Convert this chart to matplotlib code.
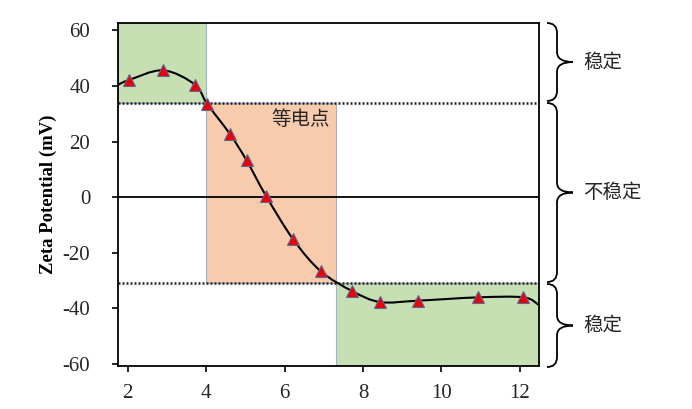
import matplotlib
matplotlib.use("Agg")
import matplotlib.pyplot as plt
from matplotlib.patches import Rectangle, PathPatch
from matplotlib.path import Path
import numpy as np

plt.rcParams.update({"font.family": ["Liberation Serif", "Noto Sans CJK SC"],
                     "axes.unicode_minus": False})

# ── 数据 ──────────────────────────────────────────
ph = [2.03, 2.9, 3.71, 4.02, 4.6, 5.03, 5.52, 6.22, 6.92, 7.73, 8.44, 9.4, 10.94, 12.09]
zeta = [42.1, 45.6, 40.5, 33.6, 22.8, 13.2, 0.6, -15.2, -26.6, -33.8, -37.7, -37.2, -36.0, -36.0]

# 曲线在坐标轴两端的读数
curve_start = (1.75, 40.4)
curve_end = (12.48, -38.7)

upper_limit = 34.0      # 上稳定边界
lower_limit = -31.0     # 下稳定边界
iep_left = 4.0          # 等电点区左界
iep_right = 7.32        # 等电点区右界

xticks = [2, 4, 6, 8, 10, 12]
yticks = [-60, -40, -20, 0, 20, 40, 60]
zone_labels = ["稳定", "不稳定", "稳定"]

C_GREEN = "#C6E0B4"
C_ORANGE = "#F8CBAD"
C_EDGE = "#9DB4CC"
C_TEXT = "#262626"


fig = plt.figure(figsize=(6.92, 4.09), dpi=100)
ax = fig.add_axes([0.1705, 0.105, 0.608, 0.838])
xmin, xmax = 1.75, 12.48
ymin, ymax = -60.7, 62.5
ax.set_xlim(xmin, xmax)
ax.set_ylim(ymin, ymax)

# 区域底色
ax.add_patch(Rectangle((xmin, upper_limit), iep_left - xmin, ymax - upper_limit,
                       facecolor=C_GREEN, edgecolor=C_EDGE, lw=0.8, zorder=1))
ax.add_patch(Rectangle((iep_left, lower_limit), iep_right - iep_left, upper_limit - lower_limit,
                       facecolor=C_ORANGE, edgecolor=C_EDGE, lw=0.8, zorder=1))
ax.add_patch(Rectangle((iep_right, ymin), xmax - iep_right, lower_limit - ymin,
                       facecolor=C_GREEN, edgecolor=C_EDGE, lw=0.8, zorder=1))

ax.axhline(0, color="black", lw=1.3, zorder=2)
ax.axhline(upper_limit, color="#222222", lw=1.8, ls=(0, (0.8, 0.8)), zorder=2)
ax.axhline(lower_limit, color="#222222", lw=1.8, ls=(0, (0.8, 0.8)), zorder=2)

# 平滑连线（Excel 式平滑：屏幕坐标下的 Catmull-Rom 贝塞尔）
cx = [curve_start[0]] + ph + [curve_end[0]]
cy = [curve_start[1]] + zeta + [curve_end[1]]
P = ax.transData.transform(np.column_stack([cx, cy]))
P = np.vstack([P[:1], P, P[-1:]])
verts = [P[1]]
codes = [Path.MOVETO]
for i in range(1, len(P) - 2):
    c1 = P[i] + (P[i + 1] - P[i - 1]) / 6
    c2 = P[i + 1] - (P[i + 2] - P[i]) / 6
    verts += [c1, c2, P[i + 1]]
    codes += [Path.CURVE4] * 3
verts = ax.transData.inverted().transform(np.array(verts))
ax.add_patch(PathPatch(Path(verts, codes), fill=False, edgecolor="black",
                       lw=1.5, zorder=3))

ax.plot(ph, zeta, ls="none", marker="^", ms=9, mfc="#E8000B",
        mec="#5A6A90", mew=0.8, zorder=4)

ax.text(6.4, 28, "等电点", ha="center", va="center", fontsize=14,
        family=["Noto Sans CJK SC"], color=C_TEXT, zorder=5)

ax.set_xticks(xticks)
ax.set_yticks(yticks)
ax.tick_params(direction="out", length=4, width=1.2, labelsize=15,
               colors="black", labelcolor=C_TEXT, top=False, right=False)
ax.tick_params(axis="y", pad=16)
ax.tick_params(axis="x", pad=9)
for s in ax.spines.values():
    s.set_linewidth(1.3)
ax.set_ylabel("Zeta Potential (mV)", fontsize=13.5, fontweight="bold",
              labelpad=4, color="black")


# 右侧大括号
def brace(y0, y1, x0=547, xm=557, x1=573, r=10):
    H = 409.0
    W = 692.0
    ym = (y0 + y1) / 2
    pts = [(x0, y0), (xm, y0), (xm, y0 + r),
           (xm, ym - r), (xm, ym), (x1, ym),
           (x1, ym), (xm, ym), (xm, ym + r),
           (xm, y1 - r), (xm, y1), (x0, y1)]
    codes = [Path.MOVETO, Path.CURVE3, Path.CURVE3,
             Path.LINETO, Path.CURVE3, Path.CURVE3,
             Path.MOVETO, Path.CURVE3, Path.CURVE3,
             Path.LINETO, Path.CURVE3, Path.CURVE3]
    verts = [(px / W, 1 - py / H) for px, py in pts]
    fig.add_artist(PathPatch(Path(verts, codes), transform=fig.transFigure,
                             fill=False, lw=1.3, edgecolor="black"))
    return ym


spans = [(23, 101), (103, 282), (284, 367)]
for (y0, y1), lab in zip(spans, zone_labels):
    ym = brace(y0, y1)
    fig.text(583 / 692, 1 - ym / 409, lab, ha="left", va="center", fontsize=14,
             family=["Noto Sans CJK SC"], color=C_TEXT)

fig.savefig("out.png", dpi=100)
